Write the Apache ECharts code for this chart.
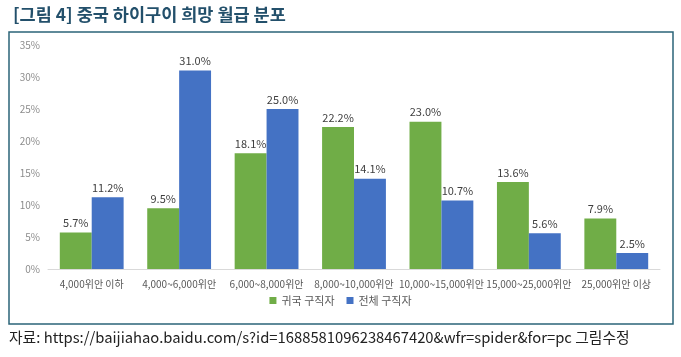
<!DOCTYPE html>
<html><head><meta charset="utf-8">
<script src="https://cdn.jsdelivr.net/npm/echarts@6/dist/echarts.min.js"></script>
<style>html,body{margin:0;padding:0;background:#fff}#c{width:681px;height:357px}</style>
</head><body><div id="c"></div>
<script>
const categories = ['4,000위안 이하','4,000~6,000위안','6,000~8,000위안','8,000~10,000위안','10,000~15,000위안','15,000~25,000위안','25,000위안 이상'];
const returnees = [5.7, 9.5, 18.1, 22.2, 23.0, 13.6, 7.9];
const allSeekers = [11.2, 31.0, 25.0, 14.1, 10.7, 5.6, 2.5];
const seriesNames = ['귀국 구직자','전체 구직자'];
const titleText = '[그림 4] 중국 하이구이 희망 월급 분포';
const sourceText = '자료: https://baijiahao.baidu.com/s?id=1688581096238467420&wfr=spider&for=pc 그림수정';

const chart = echarts.init(document.getElementById('c'), null, {renderer:'canvas'});
const font = "'Noto Sans CJK KR','Noto Sans',sans-serif";
const lbl = {show:true, position:'top', formatter: p => p.value.toFixed(1)+'%', color:'#404040', fontSize:11, fontFamily:font, distance:4};
chart.setOption({
  animation:false,
  title:{text:titleText, left:8, top:1, textStyle:{fontSize:17.5, fontWeight:'bold', color:'#23506b', fontFamily:font}},
  graphic:[
    {type:'rect', shape:{x:9, y:32, width:664, height:292}, style:{fill:'none', stroke:'#2b6478', lineWidth:1.5}, silent:true},
    {type:'text', left:9, top:330, style:{text:sourceText, fontSize:14.8, fill:'#222', fontFamily:font}}
  ],
  legend:{data:seriesNames, bottom:46, left:'center', itemWidth:7, itemHeight:7, itemGap:12, icon:'rect',
    textStyle:{fontSize:11, color:'#595959', fontFamily:font}},
  grid:{left:48, right:21, top:45, bottom:88, containLabel:false},
  xAxis:{type:'category', data:categories,
    axisLine:{lineStyle:{color:'#d9d9d9'}}, axisTick:{show:false},
    axisLabel:{interval:0, color:'#595959', fontSize:10, fontFamily:font, margin:10}},
  yAxis:{type:'value', min:0, max:35, interval:5,
    axisLabel:{formatter:'{value}%', color:'#8c8c8c', fontSize:10, fontFamily:font, margin:8},
    splitLine:{show:false}, axisLine:{show:false}, axisTick:{show:false}},
  series:[
    {name:seriesNames[0], type:'bar', data:returnees, itemStyle:{color:'#70ad47'}, barGap:'0%', barCategoryGap:'27%', label:lbl},
    {name:seriesNames[1], type:'bar', data:allSeekers, itemStyle:{color:'#4472c4'}, label:lbl}
  ]
});
</script></body></html>
